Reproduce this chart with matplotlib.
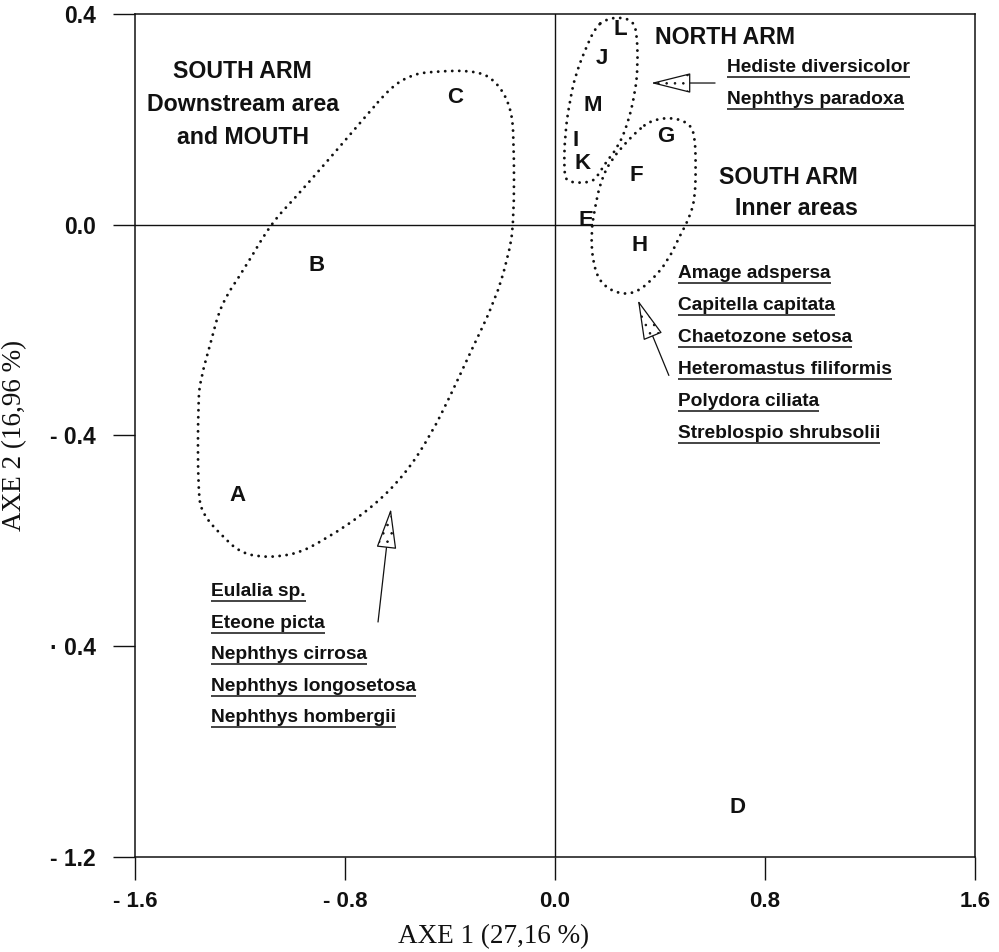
import matplotlib
matplotlib.use("Agg")
import matplotlib.pyplot as plt
from matplotlib.patches import PathPatch, FancyArrowPatch
from matplotlib.path import Path

plt.rcParams["hatch.linewidth"] = 0.6

# station scores on the first two axes
stations = ["A", "B", "C", "D", "E", "F", "G", "H", "I", "J", "K", "L", "M"]
axe1 = [-1.208, -0.910, -0.381, 0.697, 0.118, 0.309, 0.423, 0.324, 0.080, 0.179, 0.107, 0.248, 0.145]
axe2 = [-0.514, -0.078, 0.242, -1.107, 0.008, 0.093, 0.168, -0.040, 0.160, 0.316, 0.116, 0.370, 0.227]

# dotted envelopes round the groups (control points of the outline)
south_mouth_x = [-0.625, -0.549, -0.472, -0.293, -0.217, -0.168, -0.156, -0.156, -0.179, -0.229,
                 -0.320, -0.396, -0.472, -0.571, -0.701, -0.876, -1.006, -1.181, -1.272, -1.341,
                 -1.360, -1.360, -1.349, -1.310, -1.272, -1.181, -1.082, -0.990, -0.865, -0.724]
south_mouth_y = [0.261, 0.284, 0.291, 0.293, 0.269, 0.223, 0.166, 0.002, -0.063, -0.145,
                 -0.240, -0.322, -0.398, -0.474, -0.539, -0.598, -0.630, -0.630, -0.589, -0.550,
                 -0.512, -0.335, -0.291, -0.221, -0.150, -0.082, 0.002, 0.051, 0.122, 0.204]
north_x = [0.190, 0.240, 0.290, 0.312, 0.316, 0.305, 0.278, 0.240, 0.190, 0.164, 0.137, 0.050,
           0.034, 0.038, 0.057, 0.080, 0.126, 0.156]
north_y = [0.389, 0.394, 0.389, 0.370, 0.299, 0.250, 0.192, 0.147, 0.116, 0.093, 0.080, 0.080,
           0.097, 0.173, 0.236, 0.288, 0.345, 0.375]
inner_x = [0.366, 0.442, 0.507, 0.533, 0.537, 0.533, 0.507, 0.480, 0.430, 0.366, 0.305, 0.240,
           0.175, 0.145, 0.137, 0.152, 0.175, 0.213, 0.267, 0.316]
inner_y = [0.198, 0.204, 0.194, 0.173, 0.109, 0.046, 0.008, -0.017, -0.069, -0.107, -0.130, -0.131,
           -0.112, -0.074, -0.017, 0.032, 0.084, 0.122, 0.154, 0.179]

# species lists
north_species = ["Hediste diversicolor", "Nephthys paradoxa"]
inner_species = ["Amage adspersa", "Capitella capitata", "Chaetozone setosa",
                 "Heteromastus filiformis", "Polydora ciliata", "Streblospio shrubsolii"]
mouth_species = ["Eulalia sp.", "Eteone picta", "Nephthys cirrosa",
                 "Nephthys longosetosa", "Nephthys hombergii"]

xticks = [-1.6, -0.8, 0.0, 0.8, 1.6]
xtick_labels = ["- 1.6", "- 0.8", "0.0", "0.8", "1.6"]
yticks = [0.4, 0.0, -0.4, -0.8, -1.2]
ytick_labels = ["0.4", "0.0", "- 0.4", "\u00b7 0.4", "- 1.2"]

INK = "#111111"
SANS = "Liberation Sans"
SERIF = "Liberation Serif"


def smooth_outline(xs, ys):
    # closed quadratic bezier through the midpoints, vertices as control points
    pts = list(zip(xs, ys))
    n = len(pts)
    mid = lambda a, b: ((a[0] + b[0]) / 2, (a[1] + b[1]) / 2)
    verts = [mid(pts[-1], pts[0])]
    codes = [Path.MOVETO]
    for i in range(n):
        verts += [pts[i], mid(pts[i], pts[(i + 1) % n])]
        codes += [Path.CURVE3, Path.CURVE3]
    return Path(verts, codes)


fig = plt.figure(figsize=(9.99, 9.52), dpi=100)
ax = fig.add_axes([0.1351, 0.0998, 0.8408, 0.8855])
ax.set_xlim(-1.6, 1.6)
ax.set_ylim(-1.2, 0.4)

for s in ax.spines.values():
    s.set_linewidth(1.1)
    s.set_color(INK)

ax.set_xticks(xticks)
ax.set_xticklabels(xtick_labels, fontfamily=SANS, fontweight="bold", fontsize=16)
ax.set_yticks(yticks)
ax.set_yticklabels(ytick_labels, fontfamily=SANS, fontweight="bold", fontsize=16.5)
ax.tick_params(axis="x", direction="out", length=16.5, width=1.0, pad=8, colors=INK)
ax.tick_params(axis="y", direction="out", length=16, width=1.0, pad=12, colors=INK)

ax.axhline(0, color=INK, lw=1.0)
ax.axvline(0, color=INK, lw=1.0)

for xs, ys in [(south_mouth_x, south_mouth_y), (north_x, north_y), (inner_x, inner_y)]:
    ax.add_patch(PathPatch(smooth_outline(xs, ys), fill=False, edgecolor=INK, linewidth=2.1,
                           linestyle=(0, (0.01, 2.4)), capstyle="round"))

for name, x, y in zip(stations, axe1, axe2):
    ax.text(x, y, name, ha="center", va="center", fontsize=16, fontweight="bold",
            fontfamily=SANS, color=INK)

# group titles
for i, line in enumerate(["SOUTH ARM", "Downstream area", "and MOUTH"]):
    ax.text(-1.189, 0.290 - i * 0.062, line, ha="center", va="center", fontsize=16.7,
            fontweight="bold", fontfamily=SANS, color=INK)
ax.text(0.381, 0.356, "NORTH ARM", ha="left", va="center", fontsize=16.7,
        fontweight="bold", fontfamily=SANS, color=INK)
ax.text(1.154, 0.090, "SOUTH ARM", ha="right", va="center", fontsize=16.7,
        fontweight="bold", fontfamily=SANS, color=INK)
ax.text(1.154, 0.030, "Inner areas", ha="right", va="center", fontsize=16.7,
        fontweight="bold", fontfamily=SANS, color=INK)

# species names, underlined afterwards
species_texts = []
for names, x0, y0, dy in [(north_species, 0.655, 0.299, 0.061),
                          (inner_species, 0.469, -0.093, 0.0606),
                          (mouth_species, -1.310, -0.697, 0.0595)]:
    for i, n in enumerate(names):
        t = ax.text(x0, y0 - i * dy, n, ha="left", va="center", fontsize=13.8,
                    fontweight="bold", fontfamily=SANS, color=INK)
        species_texts.append(t)

# arrows with stippled heads
arrows = [((0.610, 0.269), (0.366, 0.269)),
          ((0.434, -0.286), (0.316, -0.143)),
          ((-0.674, -0.754), (-0.625, -0.539))]
for tail, tip in arrows:
    ax.add_patch(FancyArrowPatch(tail, tip, arrowstyle="-|>,head_length=26,head_width=6.5",
                                 mutation_scale=1, shrinkA=0, shrinkB=0, lw=0.9,
                                 edgecolor=INK, facecolor="white", hatch=".."))

fig.text(494 / 999, 0.0165, "AXE 1 (27,16 %)", ha="center", va="center", fontsize=19.5,
         fontfamily=SERIF, color=INK)
fig.text(15 / 999, 0.543, "AXE 2 (16,96 %)", ha="center", va="center", rotation=90,
         fontsize=19.5, fontfamily=SERIF, color=INK)

fig.canvas.draw()
renderer = fig.canvas.get_renderer()
inv = ax.transData.inverted()
for t in species_texts:
    bb = t.get_window_extent(renderer)
    (xa, ya), (xb, _) = inv.transform([(bb.x0, bb.y0 - 1.0), (bb.x1, bb.y0 - 1.0)])
    ax.plot([xa, xb], [ya, ya], color=INK, lw=1.1, solid_capstyle="butt")

fig.savefig("out.png", dpi=100)
